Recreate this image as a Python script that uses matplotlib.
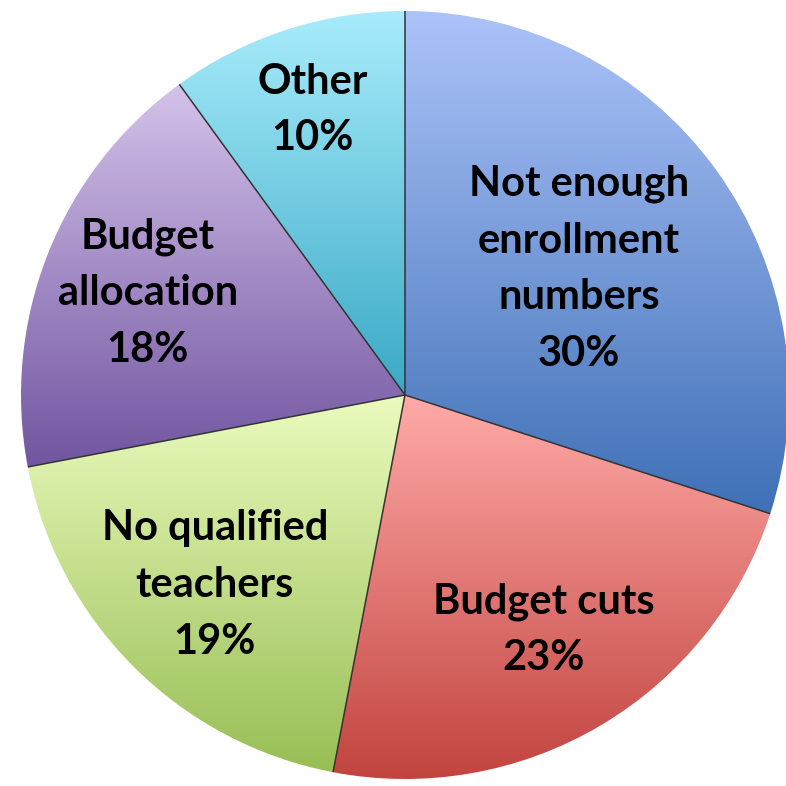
import numpy as np
import matplotlib
matplotlib.use('Agg')
import matplotlib.pyplot as plt
from matplotlib.colors import LinearSegmentedColormap

labels = ['Not enough\nenrollment\nnumbers', 'Budget cuts', 'No qualified\nteachers',
          'Budget\nallocation', 'Other']
values = [30, 23, 19, 18, 10]
top_colors = ['#acc3f9', '#ffaaa8', '#ebfbbe', '#d4c2ea', '#a8ecfb']
bottom_colors = ['#3f70b6', '#c2443f', '#98be55', '#7155a0', '#3aa9c6']
label_dist = [0.56, 0.71, 0.70, 0.72, 0.78]

W = 786
fig = plt.figure(figsize=(7.86, 7.86), dpi=100)
ax = fig.add_axes([0, 0, 1, 1])

cx, cy, r = 405, W - 395, 384
wedges, _ = ax.pie(values, startangle=90, counterclock=False, center=(cx, cy),
                   radius=r, wedgeprops=dict(linewidth=0), frame=True)
ax.set_xlim(0, W)
ax.set_ylim(0, W)
ax.axis('off')

grad = np.linspace(0, 1, 256).reshape(-1, 1)
for w, c0, c1 in zip(wedges, top_colors, bottom_colors):
    w.set_facecolor('none')
    bb = w.get_path().get_extents()
    cmap = LinearSegmentedColormap.from_list('g', [c1, c0])
    im = ax.imshow(grad, cmap=cmap, aspect='auto', origin='lower',
                   extent=[bb.x0, bb.x1, bb.y0, bb.y1], zorder=0.5)
    im.set_clip_path(w)
    # dark separator along the slice's start edge
    a = np.deg2rad(w.theta1)
    ax.plot([cx, cx + r * np.cos(a)], [cy, cy + r * np.sin(a)],
            color='#333333', lw=1.1, zorder=2, solid_capstyle='butt')

total = sum(values)
start = 90.0
for lab, v, d in zip(labels, values, label_dist):
    mid = np.deg2rad(start - v / total * 360 / 2)
    start -= v / total * 360
    x = cx + d * r * np.cos(mid)
    y = cy + d * r * np.sin(mid)
    ax.text(x, y, lab + '\n' + f'{v}%', ha='center', va='center', multialignment='center',
            fontsize=30, fontweight='bold', family='Lato', linespacing=1.6, color='black',
            zorder=3)

fig.savefig('out.png', dpi=100)
